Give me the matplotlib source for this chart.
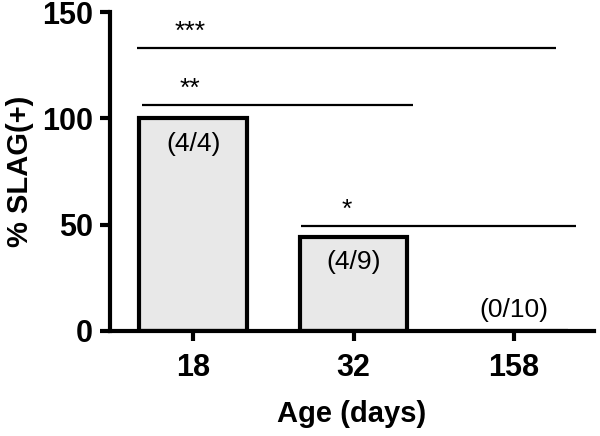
import matplotlib
matplotlib.use("Agg")
import matplotlib.pyplot as plt

# data
ages = ["18", "32", "158"]
pct_pos = [100, 44.4, 0]
counts = ["(4/4)", "(4/9)", "(0/10)"]

# significance brackets: (x start, x end, y, label)
sig_x0 = [-0.35, -0.32, 0.67]
sig_x1 = [2.26, 1.37, 2.39]
sig_y = [133, 106.5, 49.5]
sig_txt = ["***", "**", "*"]
sig_tx = [-0.02, -0.02, 0.96]

plt.rcParams["font.family"] = ["Liberation Sans", "DejaVu Sans"]

fig = plt.figure(figsize=(6, 4.36), dpi=100)
ax = fig.add_axes([0.183, 0.241, 0.807, 0.731])

x = range(len(ages))
ax.bar(x, pct_pos, width=0.67, color="#e8e8e8", edgecolor="black", linewidth=3)

for i, c in enumerate(counts):
    y = pct_pos[i] - 12 if pct_pos[i] > 20 else pct_pos[i] + 10
    ax.text(i, y, c, ha="center", va="center", fontsize=19)

for a, b, y, t, tx in zip(sig_x0, sig_x1, sig_y, sig_txt, sig_tx):
    ax.plot([a, b], [y, y], color="black", lw=1.6, solid_capstyle="butt")
    ax.text(tx, y + 2, t, ha="center", va="bottom", fontsize=19)

ax.set_xlim(-0.52, 2.5)
ax.set_ylim(0, 150)
ax.set_yticks([0, 50, 100, 150])
ax.set_xticks(list(x))
ax.set_xticklabels(ages)
for s in ["top", "right"]:
    ax.spines[s].set_visible(False)
for s in ["left", "bottom"]:
    ax.spines[s].set_linewidth(3)
ax.tick_params(width=3, length=7, labelsize=22)
ax.tick_params(axis="x", pad=9)
ax.tick_params(axis="y", pad=5)
for lab in ax.get_xticklabels() + ax.get_yticklabels():
    lab.set_fontweight("bold")

ax.set_ylabel("% SLAG(+)", fontsize=21, fontweight="bold", labelpad=6)
ax.set_xlabel("Age (days)", fontsize=21, fontweight="bold", labelpad=12)

fig.savefig("out.png", dpi=100)
